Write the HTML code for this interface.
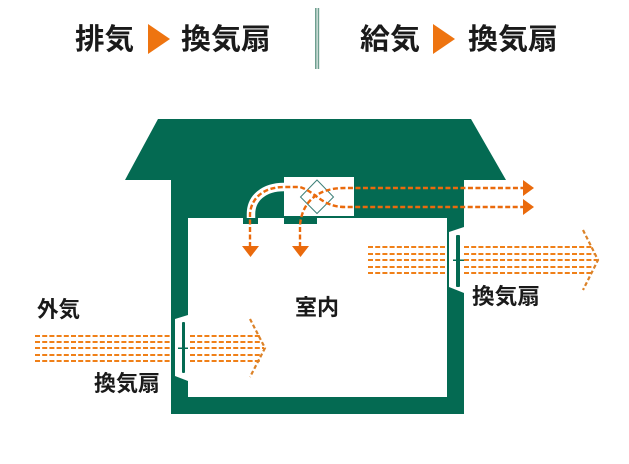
<!DOCTYPE html>
<html lang="ja"><head><meta charset="utf-8"><style>
html,body{margin:0;padding:0;background:#fff}
svg{display:block}
text{font-family:"Liberation Sans","Noto Sans CJK JP",sans-serif;fill:#1a1a1a}
</style></head><body>
<svg width="629" height="464" viewBox="0 0 629 464" xmlns="http://www.w3.org/2000/svg">
<g font-size="29" font-weight="700">
<text x="75" y="49" textLength="59" lengthAdjust="spacingAndGlyphs">排気</text>
<text x="181" y="49" textLength="90" lengthAdjust="spacingAndGlyphs">換気扇</text>
<text x="360" y="49" textLength="60" lengthAdjust="spacingAndGlyphs">給気</text>
<text x="468" y="49" textLength="90" lengthAdjust="spacingAndGlyphs">換気扇</text>
</g>
<polygon points="148,24 170,39 148,54" fill="#ee7410"/>
<polygon points="433,24 455,39 433,54" fill="#ee7410"/>
<rect x="315" y="8" width="1.6" height="61" fill="#6f9f90"/>
<rect x="317.6" y="8" width="1.6" height="61" fill="#6f9f90"/>

<!-- house -->
<polygon points="158,119 471,119 506,180 464,180 464,414 171,414 171,180 125,180" fill="#046a52"/>
<rect x="188" y="218" width="259" height="179" fill="#fff"/>
<!-- unit box -->
<rect x="284" y="177" width="70" height="39" fill="#fff"/>
<rect x="284" y="216" width="33" height="8" fill="#046a52"/>
<rect x="243" y="216" width="15" height="8" fill="#046a52"/>
<path d="M251 218V214C251 198 264 187 284 187" fill="none" stroke="#fff" stroke-width="8.5"/>
<polygon points="317,180 333.500,197 317,213.500 300.500,197" fill="#fff" stroke="#3c7f78" stroke-width="1"/>

<!-- left fan -->
<polygon points="188,315 175,319 175,376 188,381" fill="#fff"/>
<rect x="182" y="322" width="3" height="51" rx="1" fill="#046a52"/>
<rect x="178" y="347.500" width="10" height="1.500" fill="#046a52"/>
<!-- right fan -->
<polygon points="464,227 449,232 449,287 464,293" fill="#fff"/>
<rect x="456" y="235" width="4" height="52" rx="1" fill="#046a52"/>
<rect x="453" y="259.500" width="12" height="1.500" fill="#046a52"/>

<!-- stripes -->
<g fill="none" stroke="#f08018" stroke-width="2" stroke-dasharray="5 2.200">
<path d="M35 336H170M35 342H170M35 348H170M35 355H170M35 361H170"/>
<path d="M190 336H262M190 342H262M190 348H264M190 355H262M190 361H262"/>
<path d="M368 247H446M368 254H446M368 260H446M368 267H446M368 273H446"/>
<path d="M464 247H593M464 254H595M464 260H597M464 267H595M464 273H593"/>
</g>
<g fill="none" stroke="#dc8228" stroke-width="2.200" stroke-dasharray="4 2.500">
<path d="M250 319L265 348L250 377"/>
<path d="M583 230L598 260L583 290"/>
</g>

<!-- duct lines -->
<g fill="none" stroke="#ea6a0c" stroke-width="2.400" stroke-dasharray="5 2.500">
<path d="M250 247V214C251 198 264 187 284 187H300C316 192 322 207 345 207H525"/>
<path d="M300 247V225C302 204 315 188 345 188H525"/>
</g>
<polygon points="242,246 259,246 250.500,257" fill="#ea6a0c"/>
<polygon points="292,246 309,246 300.500,257" fill="#ea6a0c"/>
<polygon points="523,180 534,188 523,196" fill="#ea6a0c"/>
<polygon points="523,199 534,207 523,215" fill="#ea6a0c"/>

<g font-size="22" font-weight="700">
<text x="37" y="317" textLength="43" lengthAdjust="spacingAndGlyphs">外気</text>
<text x="94" y="391" textLength="66" lengthAdjust="spacingAndGlyphs">換気扇</text>
<text x="472" y="304" textLength="68" lengthAdjust="spacingAndGlyphs">換気扇</text>
<text x="295" y="315" textLength="44" lengthAdjust="spacingAndGlyphs">室内</text>
</g>
</svg>
</body></html>
